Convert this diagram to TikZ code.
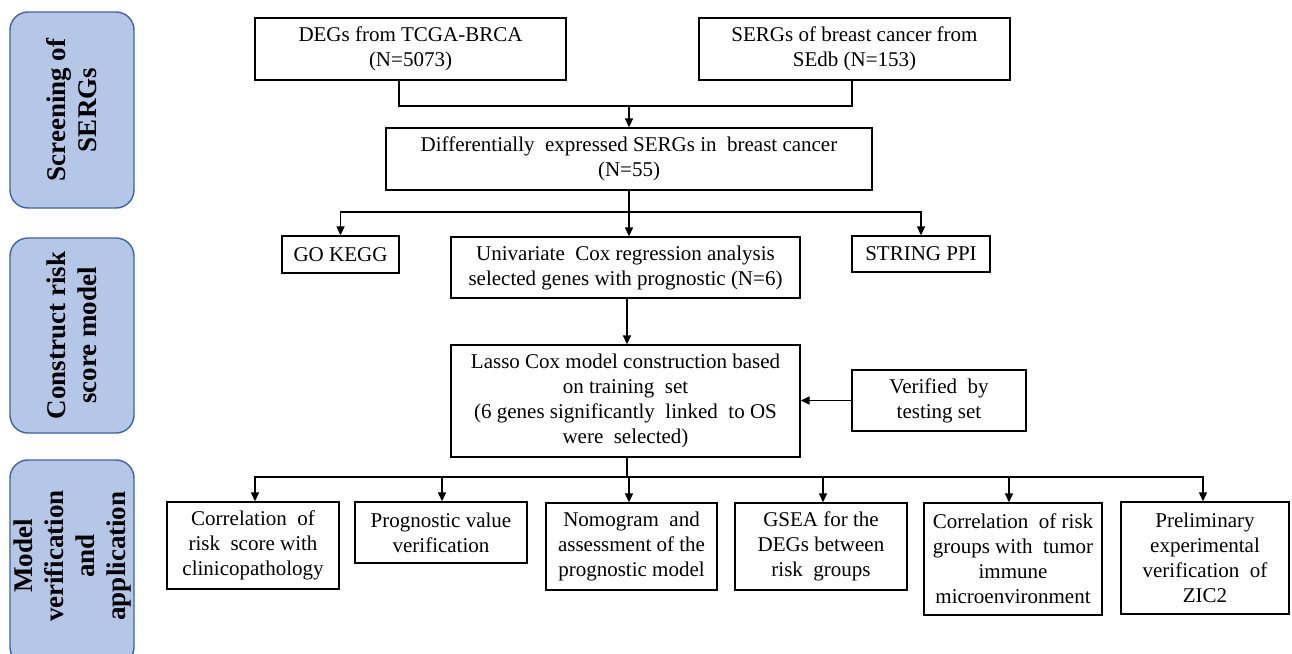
\documentclass[tikz,border=0pt]{standalone}
\usepackage{fontspec}
\setmainfont{Liberation Serif}
\usetikzlibrary{arrows.meta}
\definecolor{panelfill}{HTML}{B4C7E7}
\definecolor{paneldraw}{HTML}{3B64A8}
\begin{document}
\begin{tikzpicture}[x=1pt,y=-1pt,
  box/.style={draw=black, line width=1.3pt, align=center, inner sep=0pt,
    font=\fontsize{21}{25}\selectfont},
  panel/.style={draw=paneldraw, fill=panelfill, line width=1.4pt, rounded corners=18pt,
    rotate=90, align=center, inner sep=0pt, font=\fontsize{27}{31}\selectfont\bfseries},
  paneltext/.style={rotate=90, align=center, inner sep=0pt, font=\fontsize{27}{31}\selectfont\bfseries},
  arr/.style={line width=1.3pt, -{Triangle[length=9pt,width=8pt]}},
  ln/.style={line width=1.3pt}]
\useasboundingbox (0,0) rectangle (1292,653);
\fill[white] (0,0) rectangle (1292,653);

% left panels
\node[panel, minimum width=196pt, minimum height=124pt] (p1) at (72,110) {Screening of\\SERGs};
\node[panel, minimum width=195pt, minimum height=124pt] (p2) at (72,335.5) {Construct risk\\score model};
\node[panel, minimum width=205pt, minimum height=124pt] (p3) at (72,562.5) {};
\node[paneltext] (p3t) at (73,556) {Model\\verification\\and\\application};

% boxes
\node[box, minimum width=311pt, minimum height=62pt] (degs) at (410.5,49) {DEGs from TCGA-BRCA\\(N=5073)};
\node[box, minimum width=311pt, minimum height=62pt] (sergs) at (854.5,49) {SERGs of breast cancer from\\SEdb (N=153)};
\node[box, minimum width=486pt, minimum height=62pt] (diff) at (629,159) {Differentially \ expressed SERGs in \ breast cancer\\(N=55)};
\node[box, minimum width=117pt, minimum height=37pt] (gokegg) at (340.5,254.5) {GO KEGG};
\node[box, minimum width=349pt, minimum height=61pt] (univ) at (625.5,267.5) {Univariate \ Cox regression analysis\\selected genes with prognostic (N=6)};
\node[box, minimum width=138pt, minimum height=36pt] (string) at (921,254) {STRING PPI};
\node[box, minimum width=349pt, minimum height=112pt] (lasso) at (625.5,401) {Lasso Cox model construction based\\on training \ set\\(6 genes significantly \ linked \ to OS\\were \ selected)};
\node[box, minimum width=174pt, minimum height=61pt] (verified) at (939,400.5) {Verified \ by\\testing set};
\node[box, minimum width=172pt, minimum height=87pt] (corr) at (253,545.5) {Correlation \ of\\risk \ score with\\clinicopathology};
\node[box, minimum width=172pt, minimum height=61pt] (prog) at (441,532.5) {Prognostic value\\verification};
\node[box, minimum width=171pt, minimum height=87pt] (nomo) at (631.5,546.5) {Nomogram \ and\\assessment of the\\prognostic model};
\node[box, minimum width=172pt, minimum height=87pt] (gsea) at (821,546.5) {GSEA for the\\DEGs between\\risk \ groups};
\node[box, minimum width=178pt, minimum height=112pt] (corrrisk) at (1013,559) {Correlation \ of risk\\groups with \ tumor\\immune\\microenvironment};
\node[box, minimum width=168pt, minimum height=112pt] (prelim) at (1205,558) {Preliminary\\experimental\\verification \ of\\ZIC2};

% connectors
\coordinate (jl) at (399,106);
\coordinate (jr) at (852,106);
\draw[ln] (degs.south -| jl) -- (jl) -- (jr) -- (sergs.south -| jr);
\draw[arr] (diff.north |- jl) -- (diff.north);

\coordinate (b1) at (629,212);
\draw[ln] (diff.south) -- (b1);
\draw[arr] (b1) -| (gokegg.north);
\draw[arr] (b1) -| (string.north);
\draw[arr] (b1) -- (univ.north -| b1);

\draw[arr] ([xshift=1.5pt]univ.south) -- ([xshift=1.5pt]lasso.north);
\draw[arr] (verified.west) -- (lasso.east |- verified.west);

\coordinate (b2) at (627,477);
\draw[ln] (lasso.south -| b2) -- (b2);
\draw[arr] (b2) -| ([xshift=2pt]corr.north);
\draw[arr] (b2) -| ([xshift=1pt]prog.north);
\draw[arr] (b2) -| ([xshift=-2.5pt]nomo.north);
\draw[arr] (b2) -| ([xshift=2pt]gsea.north);
\draw[arr] (b2) -| ([xshift=-4pt]corrrisk.north);
\draw[arr] (b2) -| ([xshift=-2pt]prelim.north);
\end{tikzpicture}
\end{document}
